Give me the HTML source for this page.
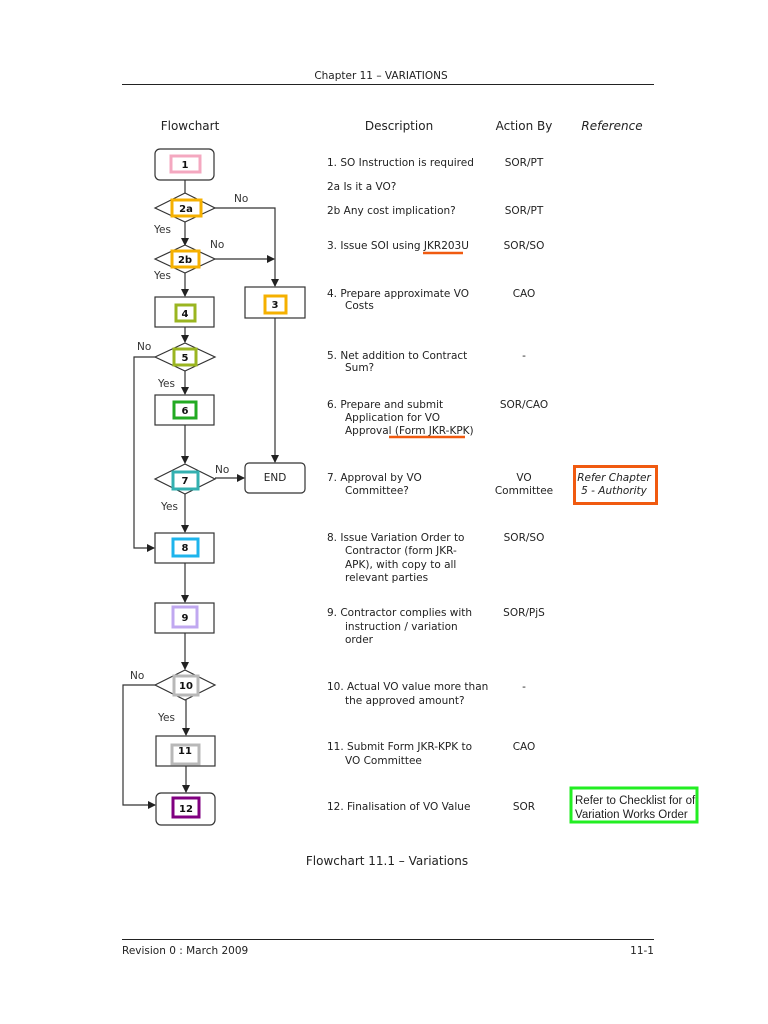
<!DOCTYPE html>
<html><head><meta charset="utf-8"><style>
html,body{margin:0;padding:0;background:#fff;}
svg{display:block;}
text{font-family:"DejaVu Sans","Liberation Sans",sans-serif;fill:#222;}
.d{font-size:10.5px;}
.h{font-size:12px;}
.n{font-size:10px;font-weight:bold;text-anchor:middle;fill:#111;}
.l{font-size:10.5px;fill:#333;}
</style></head><body>
<svg width="768" height="1024" viewBox="0 0 768 1024" xmlns="http://www.w3.org/2000/svg">
<defs><marker id="a" markerWidth="8" markerHeight="8" refX="7" refY="4" orient="auto" markerUnits="userSpaceOnUse"><path d="M0,0 L8,4 L0,8 z" fill="#222"/></marker></defs>
<text x="381" y="79" class="d" text-anchor="middle">Chapter 11 – VARIATIONS</text>
<line x1="122" y1="84.5" x2="654" y2="84.5" stroke="#222" stroke-width="1"/>
<text x="190" y="130" class="h" text-anchor="middle">Flowchart</text>
<text x="399" y="130" class="h" text-anchor="middle">Description</text>
<text x="524" y="130" class="h" text-anchor="middle">Action By</text>
<text x="612" y="130" class="h" text-anchor="middle" font-style="italic">Reference</text>

<g stroke="#333" stroke-width="1.2" fill="none">
<line x1="185" y1="180" x2="185" y2="193"/>
<line x1="185" y1="222" x2="185" y2="245" marker-end="url(#a)"/>
<polyline points="215,208 275,208 275,286" marker-end="url(#a)"/>
<line x1="215" y1="259" x2="274" y2="259" marker-end="url(#a)"/>
<line x1="185" y1="273" x2="185" y2="296" marker-end="url(#a)"/>
<line x1="185" y1="327" x2="185" y2="342" marker-end="url(#a)"/>
<line x1="275" y1="318" x2="275" y2="462" marker-end="url(#a)"/>
<polyline points="155,357 134,357 134,548 154,548" marker-end="url(#a)"/>
<line x1="185" y1="371" x2="185" y2="394" marker-end="url(#a)"/>
<line x1="185" y1="425" x2="185" y2="463" marker-end="url(#a)"/>
<line x1="215" y1="478" x2="244" y2="478" marker-end="url(#a)"/>
<line x1="185" y1="494" x2="185" y2="532" marker-end="url(#a)"/>
<line x1="185" y1="563" x2="185" y2="602" marker-end="url(#a)"/>
<line x1="185" y1="633" x2="185" y2="669" marker-end="url(#a)"/>
<polyline points="155,685 123,685 123,805 155,805" marker-end="url(#a)"/>
<line x1="186" y1="700" x2="186" y2="735" marker-end="url(#a)"/>
<line x1="186" y1="766" x2="186" y2="792" marker-end="url(#a)"/>
</g>

<g stroke="#333" stroke-width="1.2" fill="#fff">
<rect x="155" y="149" width="59" height="31" rx="5"/>
<polygon points="155,208 185,193 215,208 185,222"/>
<polygon points="155,259 185,245 215,259 185,273"/>
<rect x="155" y="297" width="59" height="30"/>
<rect x="245" y="287" width="60" height="31"/>
<polygon points="155,357 185,343 215,357 185,371"/>
<rect x="155" y="395" width="59" height="30"/>
<polygon points="155,479 185,464 215,479 185,494"/>
<rect x="245" y="463" width="60" height="30" rx="4"/>
<rect x="155" y="533" width="59" height="30"/>
<rect x="155" y="603" width="59" height="30"/>
<polygon points="155,685 185,670 215,685 185,700"/>
<rect x="156" y="736" width="59" height="30"/>
<rect x="156" y="793" width="59" height="32" rx="5"/>
</g>

<g fill="#fff" stroke-width="3">
<rect x="171" y="156" width="29" height="16" stroke="#f4a8c0"/>
<rect x="172" y="200" width="29" height="16" stroke="#f5b000"/>
<rect x="172" y="251" width="27" height="16" stroke="#f5b000"/>
<rect x="176" y="305" width="19" height="16" stroke="#9ab520"/>
<rect x="265" y="296" width="21" height="17" stroke="#f5b000"/>
<rect x="174" y="349" width="22" height="16" stroke="#9ab520"/>
<rect x="174" y="402" width="22" height="16" stroke="#22aa22"/>
<rect x="173" y="472" width="25" height="17" stroke="#33b0b0"/>
<rect x="173" y="539" width="25" height="17" stroke="#1eb4ec"/>
<rect x="173" y="607" width="24" height="20" stroke="#c0a8f0"/>
<rect x="174" y="676" width="24" height="19" stroke="#b8b8b8"/>
<rect x="172" y="745" width="27" height="19" stroke="#b8b8b8"/>
<rect x="173" y="798" width="26" height="19" stroke="#800080"/>
</g>
<text x="185" y="168" class="n">1</text>
<text x="186" y="212" class="n" font-size="9">2a</text>
<text x="185" y="263" class="n" font-size="9">2b</text>
<text x="185" y="317" class="n">4</text>
<text x="275" y="308" class="n">3</text>
<text x="185" y="361" class="n" font-size="9">5</text>
<text x="185" y="414" class="n">6</text>
<text x="185" y="484" class="n">7</text>
<text x="185" y="551" class="n">8</text>
<text x="185" y="621" class="n">9</text>
<text x="186" y="689" class="n" font-size="9">10</text>
<text x="185" y="754" class="n">11</text>
<text x="186" y="812" class="n" font-size="11">12</text>
<text x="275" y="481" class="d" text-anchor="middle">END</text>

<text x="234" y="202" class="l">No</text>
<text x="154" y="233" class="l">Yes</text>
<text x="210" y="248" class="l">No</text>
<text x="154" y="279" class="l">Yes</text>
<text x="137" y="350" class="l">No</text>
<text x="158" y="387" class="l">Yes</text>
<text x="215" y="473" class="l">No</text>
<text x="161" y="510" class="l">Yes</text>
<text x="130" y="679" class="l">No</text>
<text x="158" y="721" class="l">Yes</text>

<g class="d">
<text x="327" y="166" class="d">1.  SO Instruction is required</text>
<text x="327" y="190" class="d">2a  Is it a VO?</text>
<text x="327" y="214" class="d">2b  Any cost implication?</text>
<text x="327" y="249" class="d">3.  Issue SOI using JKR203U</text>
<text x="327" y="297" class="d">4.  Prepare approximate VO</text>
<text x="345" y="309" class="d">Costs</text>
<text x="327" y="359" class="d">5.  Net addition to Contract</text>
<text x="345" y="371" class="d">Sum?</text>
<text x="327" y="408" class="d">6.  Prepare and submit</text>
<text x="345" y="421" class="d">Application for VO</text>
<text x="345" y="434" class="d">Approval (Form JKR-KPK)</text>
<text x="327" y="481" class="d">7.  Approval by VO</text>
<text x="345" y="494" class="d">Committee?</text>
<text x="327" y="541" class="d">8.  Issue Variation Order to</text>
<text x="345" y="554" class="d">Contractor (form JKR-</text>
<text x="345" y="568" class="d">APK), with copy to all</text>
<text x="345" y="581" class="d">relevant parties</text>
<text x="327" y="616" class="d">9.  Contractor complies with</text>
<text x="345" y="630" class="d">instruction / variation</text>
<text x="345" y="643" class="d">order</text>
<text x="327" y="690" class="d">10. Actual VO value more than</text>
<text x="345" y="704" class="d">the approved amount?</text>
<text x="327" y="750" class="d">11. Submit Form JKR-KPK to</text>
<text x="345" y="764" class="d">VO Committee</text>
<text x="327" y="810" class="d">12. Finalisation of VO Value</text>
</g>
<line x1="423" y1="253" x2="463" y2="253" stroke="#f05a10" stroke-width="2.5"/>
<line x1="389" y1="437" x2="465" y2="437" stroke="#f05a10" stroke-width="2.5"/>

<g class="d" text-anchor="middle">
<text x="524" y="166" class="d" text-anchor="middle">SOR/PT</text>
<text x="524" y="214" class="d" text-anchor="middle">SOR/PT</text>
<text x="524" y="249" class="d" text-anchor="middle">SOR/SO</text>
<text x="524" y="297" class="d" text-anchor="middle">CAO</text>
<text x="524" y="359" class="d" text-anchor="middle">-</text>
<text x="524" y="408" class="d" text-anchor="middle">SOR/CAO</text>
<text x="524" y="481" class="d" text-anchor="middle">VO</text>
<text x="524" y="494" class="d" text-anchor="middle">Committee</text>
<text x="524" y="541" class="d" text-anchor="middle">SOR/SO</text>
<text x="524" y="616" class="d" text-anchor="middle">SOR/PjS</text>
<text x="524" y="690" class="d" text-anchor="middle">-</text>
<text x="524" y="750" class="d" text-anchor="middle">CAO</text>
<text x="524" y="810" class="d" text-anchor="middle">SOR</text>
</g>

<rect x="574.5" y="466.5" width="82" height="37" fill="none" stroke="#f05a10" stroke-width="3"/>
<text x="614" y="481" class="d" text-anchor="middle" font-style="italic">Refer Chapter</text>
<text x="614" y="494" class="d" text-anchor="middle" font-style="italic">5 - Authority</text>
<rect x="571" y="788" width="126" height="34" fill="none" stroke="#22ee22" stroke-width="3"/>
<text x="575" y="804" style="font-family:'Liberation Sans',sans-serif;font-size:11.5px">Refer to Checklist for of</text>
<text x="575" y="818" style="font-family:'Liberation Sans',sans-serif;font-size:11.5px">Variation Works Order</text>

<text x="387" y="865" class="h" text-anchor="middle">Flowchart 11.1 – Variations</text>
<line x1="122" y1="939.5" x2="654" y2="939.5" stroke="#222" stroke-width="1"/>
<text x="122" y="954" class="d">Revision 0 : March 2009</text>
<text x="654" y="954" class="d" text-anchor="end">11-1</text>
</svg>
</body></html>
